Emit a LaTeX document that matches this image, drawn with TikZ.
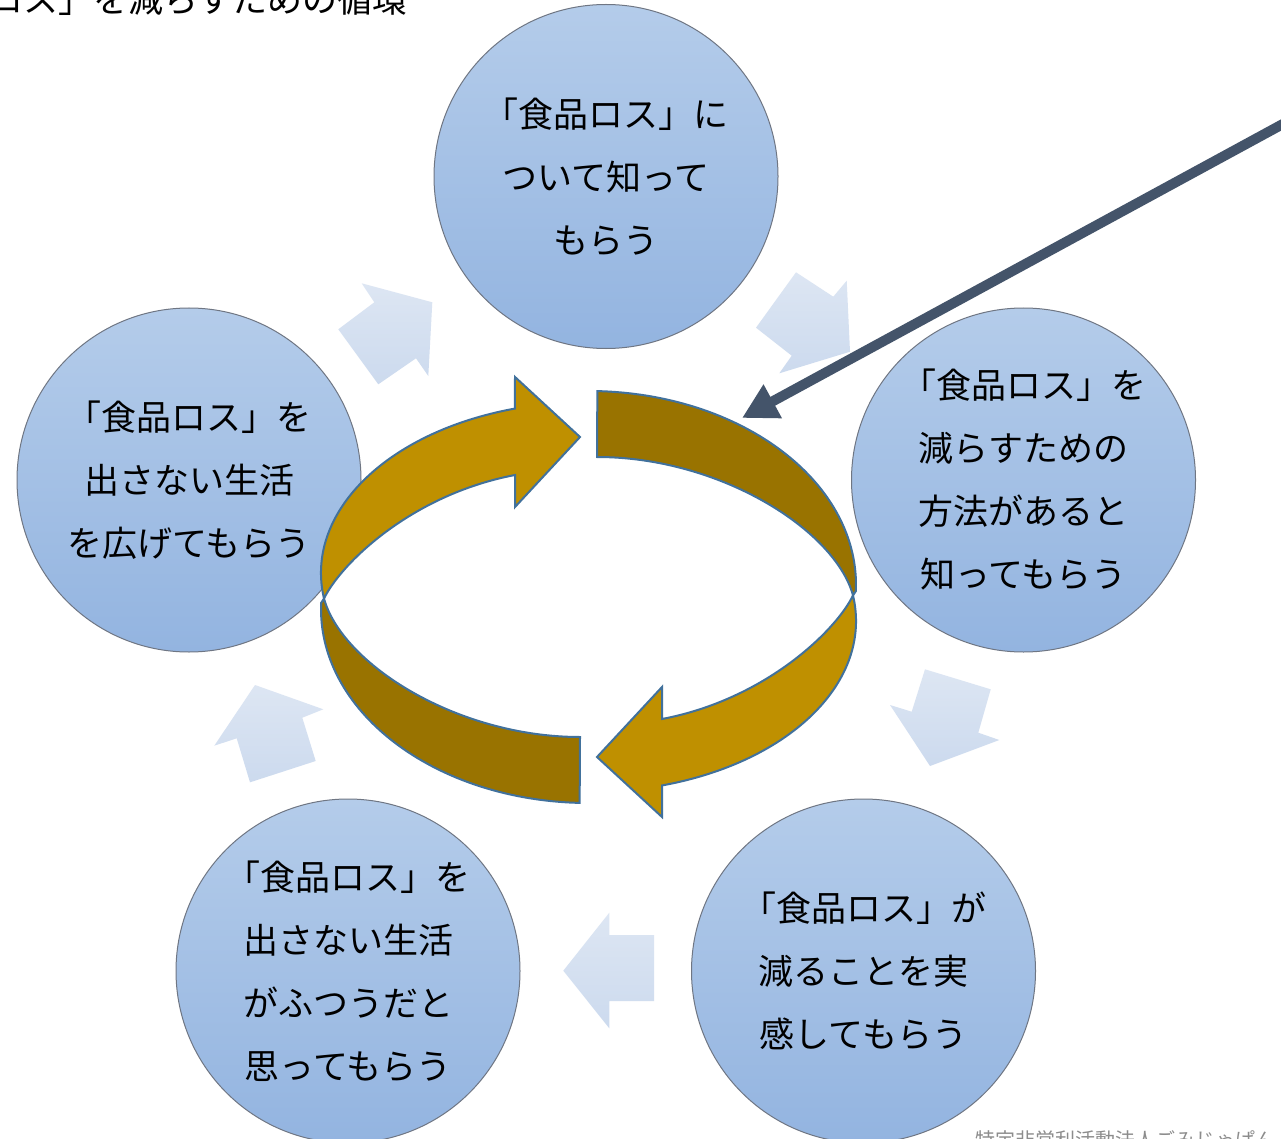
\documentclass[tikz,border=0pt]{standalone}
\usepackage{fontspec}
\newfontfamily\cjk{Noto Sans CJK JP}
\usetikzlibrary{arrows.meta}
\definecolor{goldA}{HTML}{BF9000}
\definecolor{goldB}{HTML}{997300}
\definecolor{ringline}{HTML}{41719C}
\definecolor{slate}{HTML}{44546A}
\definecolor{bubtop}{HTML}{B4CCEA}
\definecolor{bubbot}{HTML}{93B4E0}
\definecolor{bubline}{HTML}{6F7683}
\definecolor{paletop}{HTML}{DDE6F3}
\definecolor{palebot}{HTML}{CCDAEE}
\definecolor{creditgray}{HTML}{8C8C8C}
\begin{document}
\begin{tikzpicture}[x=1pt,y=-1pt,
  bubble/.style={circle, minimum size=344pt, inner sep=0pt, draw=bubline, line width=1pt,
    top color=bubtop, bottom color=bubbot, align=center, text=black,
    font={\cjk\fontsize{35pt}{63pt}\selectfont}},
  pale/.style={top color=paletop, bottom color=palebot, draw=none},
  ringedge/.style={draw=ringline, line width=2pt, line join=miter},
  pointer/.style={draw=slate, line width=10pt, -{Triangle[length=35pt,width=36pt]}}]
\useasboundingbox (0,0) rectangle (1281,1139);
\clip (0,0) rectangle (1281,1139);
\fill[white] (0,0) rectangle (1281,1139);

% circles
\node[bubble] (n1) at (606,176.5) {「食品ロス」に\\ついて知って\\もらう};
\node[bubble] (n2) at (1023.5,480) {「食品ロス」を\\減らすための\\方法があると\\知ってもらう};
\node[bubble] (n3) at (863.5,971) {「食品ロス」が\\減ることを実\\感してもらう};
\node[bubble] (n4) at (348,971) {「食品ロス」を\\出さない生活\\がふつうだと\\思ってもらう};
\node[bubble] (n5) at (189,480) {「食品ロス」を\\出さない生活\\を広げてもらう};

% pale block arrows
\shade[pale] (361.7,283.3) -- (432.3,302.3) -- (428.3,376) -- (416,358.3) -- (378.3,384.3) -- (338.3,329.3) -- (374.3,302.3) -- cycle;
\shade[pale] (796,272.3) -- (833.3,296.7) -- (846.7,280.7) -- (850,351.7) -- (779.3,373.3) -- (791.7,355.7) -- (756,327.7) -- cycle;
\shade[pale] (925,669.3) -- (990.7,689.3) -- (978.3,732.7) -- (999.3,740) -- (930,766) -- (890,705) -- (911.7,711.7) -- cycle;
\shade[pale] (563.3,970.7) -- (609.3,912.7) -- (609.3,935) -- (654,935) -- (654,1001) -- (609.3,1001) -- (609.3,1028.3) -- cycle;
\shade[pale] (255,685) -- (323.3,709.3) -- (302.3,717.7) -- (315.7,761) -- (250,782.3) -- (236.7,738.3) -- (214.3,745.7) -- cycle;

% central ring: dark back band
\path[ringedge, fill=goldB] (597.35,391.1) arc[start angle=-88, end angle=1.8, x radius=268, y radius=194]
  -- (853,595.4) .. controls (835,530) and (720,457) .. (597,457) -- cycle;
% dark front band
\path[ringedge, fill=goldB] (579.65,802.9) arc[start angle=92, end angle=181.8, x radius=268, y radius=194]
  -- (324,598.6) .. controls (342,664) and (457,737) .. (580,737) -- cycle;
% gold upper-left arrow
\path[ringedge, fill=goldA] (324,598.6) arc[start angle=171.4, end angle=254.1, x radius=267, y radius=171]
  -- (515,377) -- (580,437) -- (515,507) -- (515,475) .. controls (410,495) and (340,565) .. cycle;
% gold lower-right arrow
\path[ringedge, fill=goldA] (853,595.4) arc[start angle=-8.6, end angle=74.1, x radius=267, y radius=171]
  -- (662,817) -- (597,757) -- (662,687) -- (662,719) .. controls (767,699) and (837,629) .. cycle;

% pointer
\coordinate (ptrA) at (1300,114.7);
\coordinate (ptrB) at (742,418);
\draw[pointer] (ptrA) -- (ptrB);

% title and credit
\node[anchor=base east, inner sep=0pt, font={\cjk\fontsize{35pt}{40pt}\selectfont}] (title) at (408,13) {「食品ロス」を減らすための循環};
\node[anchor=base west, inner sep=0pt, text=creditgray, font={\cjk\fontsize{20pt}{24pt}\selectfont}] (credit) at (975,1147) {特定非営利活動法人ごみじゃぱん};
\end{tikzpicture}
\end{document}
